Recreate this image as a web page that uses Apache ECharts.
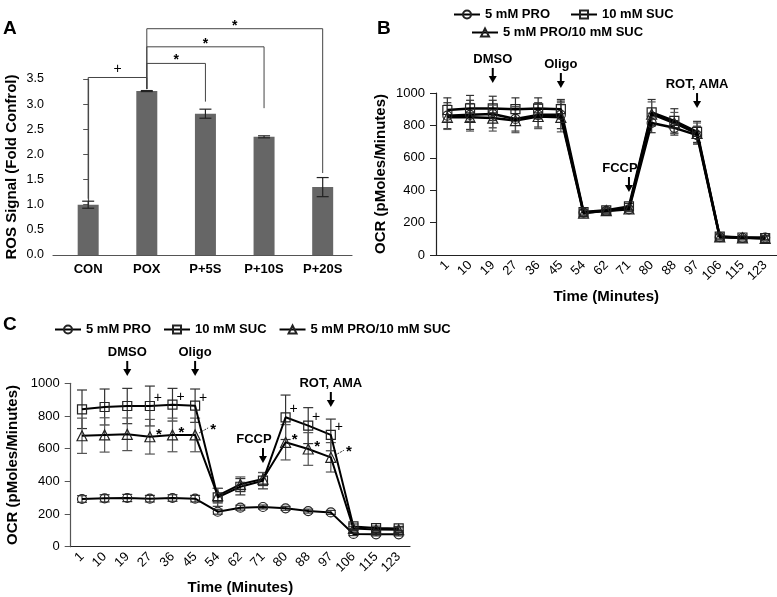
<!DOCTYPE html>
<html>
<head>
<meta charset="utf-8">
<script src="https://cdn.jsdelivr.net/npm/echarts@6/dist/echarts.min.js"></script>
<style>
html,body{margin:0;padding:0;background:#fff;}
#chart{width:777px;height:597px;}
</style>
</head>
<body>
<div id="chart"></div>
<script>
// ---------- Panel A data ----------
const catsA = ['CON', 'POX', 'P+5S', 'P+10S', 'P+20S'];
const rosMean = [1.00, 3.26, 2.81, 2.35, 1.35];
const rosErr = [0.07, 0.01, 0.09, 0.02, 0.19];
// significance brackets: [from, to, level, endFrom, endTo, mark]
const bracketsA = [
  [0, 1, 3.53, 1.12, 3.30, '+'],
  [1, 2, 3.81, 3.30, 3.05, '*'],
  [1, 3, 4.14, 3.30, 2.92, '*'],
  [1, 4, 4.50, 3.30, 1.63, '*']
];

// ---------- Time categories ----------
const timeCats = ['1', '10', '19', '27', '36', '45', '54', '62', '71', '80', '88', '97', '106', '115', '123'];
const nameA = '5 mM PRO', nameB = '10 mM SUC', nameC = '5 mM PRO/10 mM SUC';

// ---------- Panel B data ----------
const bPro    = [860, 865, 870, 840, 865, 865, 262, 272, 282, 815, 785, 740, 110, 106, 108];
const bProErr = [80, 90, 85, 75, 75, 85, 18, 15, 15, 60, 45, 55, 15, 12, 12];
const bSuc    = [895, 905, 905, 900, 905, 900, 265, 276, 300, 880, 828, 760, 114, 108, 104];
const bSucErr = [75, 80, 75, 70, 65, 60, 18, 15, 18, 80, 75, 65, 15, 12, 12];
const bMix    = [850, 850, 845, 830, 855, 850, 258, 274, 285, 870, 815, 750, 112, 106, 102];
const bMixErr = [75, 85, 80, 75, 75, 90, 18, 15, 15, 75, 65, 65, 15, 12, 12];
// injections: [category index, arrow tip value, label]
const injB = [[2, 1062, 'DMSO'], [5, 1031, 'Oligo'], [8, 389, 'FCCP'], [11, 907, 'ROT, AMA']];

// ---------- Panel C data ----------
const cPro    = [292, 296, 298, 294, 298, 294, 214, 239, 243, 235, 218, 210, 78, 76, 76];
const cProErr = [20, 22, 22, 20, 20, 20, 15, 15, 12, 12, 12, 12, 10, 10, 10];
const cSuc    = [841, 855, 861, 861, 869, 863, 302, 367, 404, 792, 741, 684, 124, 114, 112];
const cSucErr = [118, 110, 108, 122, 100, 102, 55, 50, 50, 136, 110, 97, 15, 12, 12];
const cMix    = [679, 684, 688, 673, 684, 684, 312, 382, 414, 639, 598, 547, 112, 105, 104];
const cMixErr = [108, 105, 100, 106, 103, 103, 45, 45, 40, 108, 100, 90, 12, 12, 12];
const injC = [[2, 1045, 'DMSO'], [5, 1045, 'Oligo'], [8, 512, 'FCCP'], [11, 855, 'ROT, AMA']];
// significance marks in C: category indices
const sigSucIdx = [3, 4, 5, 9, 10, 11];
const sigMixIdx = [3, 4, 5, 9, 10, 11];
const sigMixLeader = [5, 11];

const FONT = 'Liberation Sans, Arial, Helvetica, sans-serif';

function errRender(capW, color, lw) {
  return function (params, api) {
    const x = api.value(0), m = api.value(1), e = api.value(2);
    const t = api.coord([x, m + e]), b = api.coord([x, m - e]);
    const h = capW / 2;
    const st = { stroke: color, lineWidth: lw };
    return { type: 'group', children: [
      { type: 'line', shape: { x1: t[0], y1: t[1], x2: b[0], y2: b[1] }, style: st },
      { type: 'line', shape: { x1: t[0] - h, y1: t[1], x2: t[0] + h, y2: t[1] }, style: st },
      { type: 'line', shape: { x1: b[0] - h, y1: b[1], x2: b[0] + h, y2: b[1] }, style: st }
    ]};
  };
}

function injRender(list) {
  return function (params, api) {
    const it = list[params.dataIndex];
    const p = api.coord([api.value(0), api.value(1)]);
    const x = p[0], y = p[1];
    const dx = it[2] === 'FCCP' ? -9 : 0;
    return { type: 'group', children: [
      { type: 'text', style: { x: x + dx, y: y - 24, text: it[2], align: 'center', verticalAlign: 'middle',
          font: 'bold 13px ' + FONT, fill: '#000' } },
      { type: 'line', shape: { x1: x, y1: y - 15, x2: x, y2: y - 6 }, style: { stroke: '#000', lineWidth: 2 } },
      { type: 'polygon', shape: { points: [[x - 4, y - 7], [x + 4, y - 7], [x, y]] }, style: { fill: '#000' } }
    ]};
  };
}

function errData(m, e) { return m.map((v, i) => [i, v, e[i]]); }

function lineSeries(name, data, xi, symbol, size, lw) {
  return {
    type: 'line', name: name, xAxisIndex: xi, yAxisIndex: xi, data: data,
    symbol: symbol, symbolSize: size, showAllSymbol: true,
    itemStyle: { color: 'rgba(255,255,255,0)', borderColor: '#222', borderWidth: 1.2 },
    lineStyle: { color: '#000', width: lw }, z: 4
  };
}

const chart = echarts.init(document.getElementById('chart'), null, { renderer: 'canvas' });

const catAxis = (gi) => ({
  gridIndex: gi, type: 'category', data: timeCats, boundaryGap: true,
  axisLine: { lineStyle: { color: '#222', width: 1.2 } },
  axisTick: { alignWithLabel: true, length: 7, lineStyle: { color: '#222' } },
  axisLabel: { rotate: 45, fontSize: 13, color: '#000', margin: 8, interval: 0, fontFamily: FONT },
  name: 'Time (Minutes)', nameLocation: 'middle', nameGap: 34,
  nameTextStyle: { fontWeight: 'bold', fontSize: 15, color: '#000', fontFamily: FONT }
});
const ocrAxis = (gi, gap, col) => ({
  gridIndex: gi, type: 'value', min: 0, max: 1000, interval: 200,
  axisLine: { show: true, lineStyle: { color: col, width: 1.2 } },
  axisTick: { show: true, length: 6, lineStyle: { color: col } },
  splitLine: { show: false },
  axisLabel: { fontSize: 13, color: '#000', margin: 11, fontFamily: FONT, formatter: v => String(v) },
  name: 'OCR (pMoles/Minutes)', nameLocation: 'middle', nameGap: gap,
  nameTextStyle: { fontWeight: 'bold', fontSize: 15, color: '#000', fontFamily: FONT }
});

const option = {
  animation: false,
  backgroundColor: '#fff',
  textStyle: { fontFamily: FONT },
  grid: [
    { left: 53, top: 79, width: 299, height: 176 },
    { left: 436, top: 93, width: 340.5, height: 162 },
    { left: 70.7, top: 383.3, width: 339.3, height: 163.4 }
  ],
  legend: [
    { top: 3, left: 448, itemWidth: 26, itemHeight: 10, itemGap: 20, selectedMode: false,
      data: [nameA, nameB], textStyle: { fontWeight: 'bold', fontSize: 13, color: '#000', fontFamily: FONT } },
    { top: 21, left: 466, itemWidth: 26, itemHeight: 10, selectedMode: false,
      data: [nameC], textStyle: { fontWeight: 'bold', fontSize: 13, color: '#000', fontFamily: FONT } },
    { top: 318, left: 49, itemWidth: 26, itemHeight: 10, itemGap: 12, selectedMode: false,
      data: [nameA, nameB, nameC], textStyle: { fontWeight: 'bold', fontSize: 13, color: '#000', fontFamily: FONT } }
  ],
  graphic: [
    { type: 'text', left: 3, top: 19, style: { text: 'A', font: 'bold 19px ' + FONT, fill: '#000' } },
    { type: 'text', left: 377, top: 19, style: { text: 'B', font: 'bold 19px ' + FONT, fill: '#000' } },
    { type: 'text', left: 3, top: 315, style: { text: 'C', font: 'bold 19px ' + FONT, fill: '#000' } }
  ],
  xAxis: [
    { gridIndex: 0, type: 'value', min: -0.6, max: 4.5,
      axisLine: { show: true, onZero: false, lineStyle: { color: '#555', width: 1.2 } },
      axisTick: { show: false }, splitLine: { show: false },
      axisLabel: { customValues: [0, 1, 2, 3, 4], formatter: v => catsA[Math.round(v)] || '',
        fontWeight: 'bold', fontSize: 13, color: '#000', margin: 8, fontFamily: FONT } },
    catAxis(1),
    catAxis(2)
  ],
  yAxis: [
    { gridIndex: 0, type: 'value', min: 0, max: 3.5, interval: 0.5,
      axisLine: { show: true, lineStyle: { color: '#555', width: 1.2 } },
      axisTick: { show: true, length: 5, lineStyle: { color: '#555' } },
      splitLine: { show: false },
      axisLabel: { formatter: v => v.toFixed(1), fontSize: 12.5, color: '#000', margin: 9, fontFamily: FONT },
      name: 'ROS Signal (Fold Confrol)', nameLocation: 'middle', nameGap: 34,
      nameTextStyle: { fontWeight: 'bold', fontSize: 15, color: '#000', fontFamily: FONT } },
    ocrAxis(1, 48, '#222'),
    ocrAxis(2, 50, '#555')
  ],
  series: [
    // Panel A
    { type: 'bar', xAxisIndex: 0, yAxisIndex: 0, data: rosMean.map((v, i) => [i, v]), barWidth: 21,
      itemStyle: { color: '#666' }, z: 2 },
    { type: 'custom', xAxisIndex: 0, yAxisIndex: 0, data: errData(rosMean, rosErr),
      renderItem: errRender(12, '#222', 1.2), z: 3 },
    { type: 'custom', xAxisIndex: 0, yAxisIndex: 0, data: bracketsA.map(b => [b[0], b[1], b[2], b[3], b[4]]),
      renderItem: function (params, api) {
        const b = bracketsA[params.dataIndex];
        const pa = api.coord([b[0], b[3]]), pl = api.coord([b[0], b[2]]);
        const pr = api.coord([b[1], b[2]]), pb = api.coord([b[1], b[4]]);
        return { type: 'group', children: [
          { type: 'polyline', shape: { points: [pa, pl, pr, pb] }, style: { stroke: '#444', lineWidth: 1, fill: null } },
          { type: 'text', style: { x: (pl[0] + pr[0]) / 2, y: pl[1] - (b[5] === '+' ? 8 : 3), text: b[5],
              align: 'center', verticalAlign: 'middle', font: (b[5] === '+' ? '' : 'bold ') + '14px ' + FONT, fill: '#000' } }
        ]};
      }, z: 3 },

    // Panel B
    { type: 'custom', xAxisIndex: 1, yAxisIndex: 1, data: errData(bPro, bProErr), renderItem: errRender(8, '#333', 1.2), z: 2 },
    { type: 'custom', xAxisIndex: 1, yAxisIndex: 1, data: errData(bSuc, bSucErr), renderItem: errRender(8, '#333', 1.2), z: 2 },
    { type: 'custom', xAxisIndex: 1, yAxisIndex: 1, data: errData(bMix, bMixErr), renderItem: errRender(8, '#555', 1.2), z: 2 },
    lineSeries(nameA, bPro, 1, 'circle', 9, 2.5),
    lineSeries(nameB, bSuc, 1, 'rect', 9, 2.5),
    lineSeries(nameC, bMix, 1, 'triangle', 10, 2.5),
    { type: 'custom', xAxisIndex: 1, yAxisIndex: 1, data: injB.map(d => [d[0], d[1]]), renderItem: injRender(injB), z: 5 },

    // Panel C
    { type: 'custom', xAxisIndex: 2, yAxisIndex: 2, data: errData(cPro, cProErr), renderItem: errRender(10, '#333', 1.2), z: 2 },
    { type: 'custom', xAxisIndex: 2, yAxisIndex: 2, data: errData(cSuc, cSucErr), renderItem: errRender(10, '#333', 1.2), z: 2 },
    { type: 'custom', xAxisIndex: 2, yAxisIndex: 2, data: errData(cMix, cMixErr), renderItem: errRender(10, '#555', 1.2), z: 2 },
    lineSeries(nameA, cPro, 2, 'circle', 9, 2),
    lineSeries(nameB, cSuc, 2, 'rect', 9, 2),
    lineSeries(nameC, cMix, 2, 'triangle', 10, 2),
    { type: 'custom', xAxisIndex: 2, yAxisIndex: 2, data: injC.map(d => [d[0], d[1]]), renderItem: injRender(injC), z: 5 },
    { type: 'custom', xAxisIndex: 2, yAxisIndex: 2, data: sigSucIdx.map(i => [i, cSuc[i]]),
      renderItem: function (params, api) {
        const p = api.coord([api.value(0), api.value(1)]);
        return { type: 'text', style: { x: p[0] + 8, y: p[1] - 8, text: '+', align: 'center', verticalAlign: 'middle',
          font: '14px ' + FONT, fill: '#000' } };
      }, z: 5 },
    { type: 'custom', xAxisIndex: 2, yAxisIndex: 2, data: sigMixIdx.map(i => [i, cMix[i]]),
      renderItem: function (params, api) {
        const i = api.value(0);
        const p = api.coord([i, api.value(1)]);
        if (sigMixLeader.indexOf(i) >= 0) {
          return { type: 'group', children: [
            { type: 'line', shape: { x1: p[0] + 4, y1: p[1] - 2, x2: p[0] + 13, y2: p[1] - 7 },
              style: { stroke: '#000', lineWidth: 0.8, lineDash: [2, 1] } },
            { type: 'text', style: { x: p[0] + 18, y: p[1] - 5, text: '*', align: 'center', verticalAlign: 'middle',
              font: 'bold 15px ' + FONT, fill: '#000' } }
          ]};
        }
        return { type: 'text', style: { x: p[0] + 9, y: p[1] - 2, text: '*', align: 'center', verticalAlign: 'middle',
          font: 'bold 15px ' + FONT, fill: '#000' } };
      }, z: 5 }
  ]
};
chart.setOption(option);
</script>
</body>
</html>
